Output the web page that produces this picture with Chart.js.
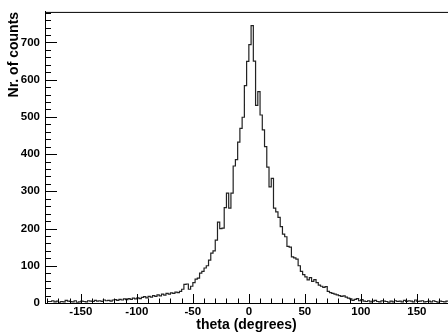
<!DOCTYPE html>
<html><head><meta charset="utf-8">
<script src="https://cdn.jsdelivr.net/npm/chart.js@4/dist/chart.umd.min.js"></script>
<style>html,body{margin:0;padding:0;background:#fff}#wrap{width:448px;height:336px;position:relative}</style>
</head><body><div id="wrap"><canvas id="c" width="448" height="336"></canvas></div>
<script>
// ---- DATA ----
const binLow = -180;
const binWidth = 2;
const counts = [
  4, 6, 3, 5, 2, 4, 3, 7, 5, 4, 3, 6, 2, 3, 5, 4, 3, 6, 5, 4, 7, 5, 6, 4, 8, 6, 7, 5, 8, 9,
  7, 10, 8, 11, 9, 12, 10, 13, 11, 14, 12, 15, 17, 14, 18,
  16, 20, 18, 22, 19, 24, 21, 26, 24, 27, 26, 29, 28, 31,
  37, 50, 51, 37, 45, 55, 64, 67, 80, 85, 94, 100, 115, 134, 140,
  169, 217, 200, 201, 256, 295, 255, 295, 368, 385, 432, 469, 499, 584, 649, 694,
  745, 650, 531, 568, 505, 465, 420, 365, 312, 335,
  255, 245, 230, 205, 185, 178, 152, 150, 124, 121,
  118, 100, 85, 76, 70, 62, 68, 58, 63, 55,
  48, 45, 42, 44, 31, 28, 26, 24, 22, 20,
  18, 19, 16, 13, 11, 7, 10, 12, 6, 9,
  5,
  4, 6, 3, 5, 7, 4, 3, 6, 5, 4, 2, 5, 3, 6, 4, 5, 3, 7, 4, 6, 5, 3, 8, 4, 5, 6, 3, 4, 5, 3, 6, 4, 2, 5, 4, 3, 5, 4, 6
];
const xTicks = [-150, -100, -50, 0, 50, 100, 150];
const yTicks = [0, 100, 200, 300, 400, 500, 600, 700];
const xTitle = 'theta (degrees)';
const yTitle = 'Nr. of counts';

// ---- build step points (right edge of each bin) ----
const points = [{x: binLow, y: counts[0]}];
counts.forEach((v, i) => points.push({x: binLow + binWidth * (i + 1), y: v}));

const FONT = "'Liberation Sans', Arial, Helvetica, sans-serif";

const rootTicks = {
  id: 'rootTicks',
  afterDraw(chart) {
    const ctx = chart.ctx, a = chart.chartArea;
    const xs = chart.scales.x, ys = chart.scales.y;
    ctx.save();
    ctx.strokeStyle = '#000';
    ctx.lineWidth = 1;
    ctx.beginPath();
    ctx.moveTo(a.left, a.top + 0.5); ctx.lineTo(a.right, a.top + 0.5);
    for (let v = -180; v <= 180; v += 10) {
      const p = Math.round(xs.getPixelForValue(v)) + 0.5;
      if (p < a.left || p > a.right) continue;
      const len = (v % 50 === 0) ? 9 : 4.5;
      ctx.moveTo(p, a.bottom); ctx.lineTo(p, a.bottom - len);
    }
    for (let v = 0; v <= 780; v += 20) {
      const p = Math.round(ys.getPixelForValue(v)) + 0.5;
      const len = (v % 100 === 0) ? 12 : 6;
      ctx.moveTo(a.left, p); ctx.lineTo(a.left + len, p);
    }
    ctx.stroke();
    ctx.restore();
  }
};

new Chart(document.getElementById('c'), {
  type: 'line',
  data: {
    datasets: [{
      data: points,
      stepped: 'before',
      borderColor: '#222',
      borderWidth: 1.2,
      pointRadius: 0,
      fill: false
    }]
  },
  options: {
    responsive: false,
    animation: false,
    layout: {padding: {left: 0, top: 11, right: 0, bottom: 0}},
    plugins: {legend: {display: false}, tooltip: {enabled: false}},
    scales: {
      x: {
        type: 'linear',
        min: -182,
        max: 177.8,
        afterBuildTicks: s => { s.ticks = xTicks.map(v => ({value: v})); },
        afterFit: s => { s.height = 33; },
        ticks: {
          color: '#000', padding: 2, maxRotation: 0, autoSkip: false,
          font: {family: FONT, weight: 'bold', size: 11.5}
        },
        grid: {display: false, drawTicks: false},
        border: {display: true, color: '#000', width: 1},
        title: {
          display: true, text: xTitle, color: '#000',
          font: {family: FONT, weight: 'bold', size: 14},
          padding: {top: 0, bottom: 2}
        }
      },
      y: {
        type: 'linear',
        min: 0,
        max: 782,
        afterBuildTicks: s => { s.ticks = yTicks.map(v => ({value: v})); },
        afterFit: s => { s.width = 45; },
        ticks: {
          color: '#000', padding: 5,
          font: {family: FONT, weight: 'bold', size: 11.5}
        },
        grid: {display: false, drawTicks: false},
        border: {display: true, color: '#000', width: 1},
        title: {
          display: true, text: yTitle, color: '#000', align: 'end',
          font: {family: FONT, weight: 'bold', size: 14},
          padding: {top: 6, bottom: 0}
        }
      }
    }
  },
  plugins: [rootTicks]
});
</script>
</body></html>
